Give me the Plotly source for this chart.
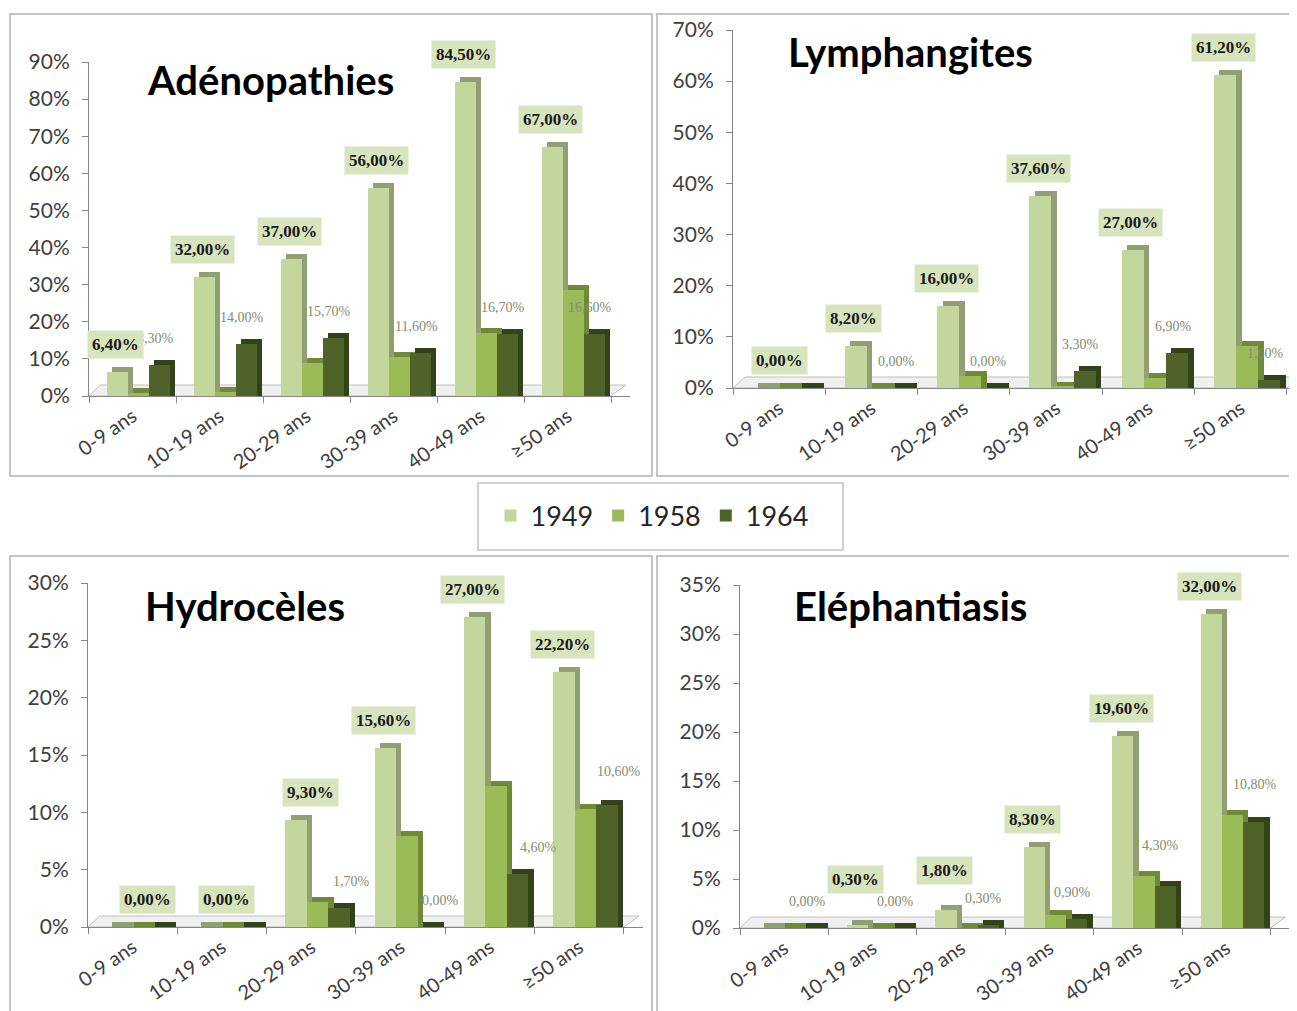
import plotly.graph_objects as go

# ---------------- data ----------------
categories = ["0-9 ans", "10-19 ans", "20-29 ans", "30-39 ans", "40-49 ans", "≥50 ans"]
years = ["1949", "1958", "1964"]

aden_1949 = [6.4, 32.0, 37.0, 56.0, 84.5, 67.0]
aden_1958 = [0.8, 1.0, 9.0, 10.5, 17.0, 28.5]
aden_1964 = [8.3, 14.0, 15.7, 11.6, 16.7, 16.6]

lymph_1949 = [0.0, 8.2, 16.0, 37.6, 27.0, 61.2]
lymph_1958 = [0.0, 0.0, 2.4, 0.2, 2.0, 8.3]
lymph_1964 = [0.0, 0.0, 0.0, 3.3, 6.9, 1.6]

hydro_1949 = [0.0, 0.0, 9.3, 15.6, 27.0, 22.2]
hydro_1958 = [0.0, 0.0, 2.2, 7.9, 12.3, 10.3]
hydro_1964 = [0.0, 0.0, 1.7, 0.0, 4.6, 10.6]

eleph_1949 = [0.0, 0.3, 1.8, 8.3, 19.6, 32.0]
eleph_1958 = [0.0, 0.0, 0.0, 1.3, 5.3, 11.5]
eleph_1964 = [0.0, 0.0, 0.3, 0.9, 4.3, 10.8]

titles = ["Adénopathies", "Lymphangites", "Hydrocèles", "Eléphantiasis"]
y_max = [90, 70, 30, 35]
y_dtick = [10, 10, 5, 5]
hidden_1964_labels = [[], [0], [0, 1], []]
hidden_1949_labels = [[], [], [], [0]]

# ---------------- styling ----------------
W, H = 1297, 1011
OFF = 8  # page body margin compensation (px)


def PX(x):
    return (x - OFF) / W


def PY(y):
    return 1 - (y - OFF) / H


front_colors = ["#c3d69b", "#9bbb59", "#4f6228"]
side_colors = ["#929f73", "#6f8a36", "#34421a"]
bar_centers = [-0.17, 0.07, 0.31]
bar_width = 0.24
side_dx = 0.06

# label placement tweaks (category units, pixels)
box_dx = -0.19
grey_dx = [0.26, 0.27, 0.45, 0.26]
box_adjust = {(1, 0): (0.19, 0), (2, 0): (0.36, 0), (2, 1): (0.24, 0), (2, 2): (0.18, 0),
              (3, 1): (0, 18), (3, 2): (0, 12)}
grey_adjust = {(3, 4): (0, 14), (3, 5): (0.07, 11), (2, 4): (0.1, 0), (2, 5): (0, 7)}

# layout geometry per panel (reference pixels): x0 axis, px per category, y0 (0%), y1 (max)
geo = [
    dict(x0=89, u=87.0, y0=396, y1=62, tx=145, ty=80),
    dict(x0=733, u=92.3, y0=388, y1=30, tx=786, ty=52),
    dict(x0=88, u=89.3, y0=927, y1=583, tx=143, ty=606),
    dict(x0=740, u=88.4, y0=928, y1=585, tx=792, ty=606),
]
series = [
    (aden_1949, aden_1958, aden_1964),
    (lymph_1949, lymph_1958, lymph_1964),
    (hydro_1949, hydro_1958, hydro_1964),
    (eleph_1949, eleph_1958, eleph_1964),
]


def fmt(v):
    return f"{v:.2f}".replace(".", ",") + "%"


fig = go.Figure()
annotations = []
shapes = []
layout_axes = {}
n = len(categories)
idx = list(range(n))

for k in range(4):
    g = geo[k]
    xa = "x" if k == 0 else f"x{k+1}"
    ya = "y" if k == 0 else f"y{k+1}"
    ymax = y_max[k]
    plot_h = g["y0"] - g["y1"]
    dy = ymax * 5 / plot_h
    fd = ymax * 11 / plot_h
    x1px = min(g["x0"] + (n + 0.22) * g["u"], W + OFF)
    xr_end = -0.5 + (x1px - g["x0"]) / g["u"]

    # side / depth faces (drawn first)
    for s in range(3):
        vals = series[k][s]
        fig.add_trace(go.Bar(
            x=[i + bar_centers[s] + side_dx for i in idx], y=[v + dy for v in vals],
            width=bar_width,
            marker=dict(color=side_colors[s], line=dict(width=0)),
            showlegend=False, hoverinfo="skip", xaxis=xa, yaxis=ya,
        ))
    # front faces
    for s in range(3):
        vals = series[k][s]
        fig.add_trace(go.Bar(
            x=[i + bar_centers[s] for i in idx], y=vals, width=bar_width,
            name=years[s], legendgroup=years[s], showlegend=(k == 0),
            marker=dict(color=front_colors[s], line=dict(width=0)),
            xaxis=xa, yaxis=ya,
        ))

    # floor
    shapes.append(dict(
        type="path", xref=xa, yref=ya, layer="below",
        path=f"M -0.5,0 L {n-0.5},0 L {n-0.5+0.17},{fd} L {-0.5+0.13},{fd} Z",
        fillcolor="#f0f0f0", line=dict(color="#bfbfbf", width=1),
    ))

    xkey = "xaxis" if k == 0 else f"xaxis{k+1}"
    ykey = "yaxis" if k == 0 else f"yaxis{k+1}"
    layout_axes[xkey] = dict(
        domain=[PX(g["x0"]), min(PX(x1px), 1.0)], anchor=ya, range=[-0.5, xr_end],
        tickmode="array", tickvals=idx, ticktext=categories, tickangle=-35,
        ticks="", showline=True, linecolor="#868686", linewidth=1,
        showgrid=False, zeroline=False,
        tickfont=dict(family="Lato", size=20, color="#404040"),
        minor=dict(tickmode="array", tickvals=[i - 0.5 for i in range(n + 1)],
                   ticks="outside", ticklen=6, tickcolor="#868686"),
    )
    layout_axes[ykey] = dict(
        domain=[PY(g["y0"]), PY(g["y1"])], anchor=xa, range=[0, ymax],
        dtick=y_dtick[k], ticksuffix="%", ticks="outside", ticklen=6,
        tickcolor="#868686", showline=True, linecolor="#868686", linewidth=1,
        showgrid=False, zeroline=False, ticklabelstandoff=8,
        tickfont=dict(family="Lato", size=21, color="#404040"),
    )

    # 1964 value labels (grey)
    for i in idx:
        if i in hidden_1964_labels[k]:
            continue
        adx, ady = grey_adjust.get((k, i), (0, 0))
        annotations.append(dict(
            x=i + grey_dx[k] + adx, y=series[k][2][i], xref=xa, yref=ya,
            text=fmt(series[k][2][i]), showarrow=False, yanchor="bottom",
            yshift=17 + ady,
            font=dict(family="Liberation Serif", size=14, color="#858c70"),
        ))
    # 1949 value labels (boxed)
    for i in idx:
        if i in hidden_1949_labels[k]:
            continue
        adx, ady = box_adjust.get((k, i), (0, 0))
        annotations.append(dict(
            x=i + box_dx + adx, y=series[k][0][i], xref=xa, yref=ya,
            text="<b>" + fmt(series[k][0][i]) + "</b>", showarrow=False,
            yanchor="bottom", yshift=13 + ady, bgcolor="#d7e4bd", borderpad=4,
            font=dict(family="Liberation Serif", size=17, color="#1a1a1a"),
        ))
    # panel title
    annotations.append(dict(
        x=PX(g["tx"]), y=PY(g["ty"]), xref="paper", yref="paper",
        xanchor="left", yanchor="middle", showarrow=False,
        text="<b>" + titles[k] + "</b>",
        font=dict(family="Lato", size=40, color="#000000"),
    ))

# panel borders
border = dict(color="#c4c4c4", width=2)
for (x0, y0, x1, y1) in [(10, 14, 652, 476), (657, 14, 1320, 476),
                         (10, 556, 652, 1030), (657, 556, 1320, 1030)]:
    shapes.append(dict(type="rect", xref="paper", yref="paper",
                       x0=PX(x0), x1=PX(x1), y0=PY(y0), y1=PY(y1),
                       line=border, fillcolor="rgba(0,0,0,0)", layer="below"))
# legend box
shapes.append(dict(type="rect", xref="paper", yref="paper",
                   x0=PX(478), x1=PX(843), y0=PY(483), y1=PY(550),
                   line=dict(color="#d0d0d0", width=2), fillcolor="white", layer="below"))

fig.update_layout(
    width=W, height=H, margin=dict(l=0, r=0, t=0, b=0, autoexpand=False),
    paper_bgcolor="white", plot_bgcolor="rgba(0,0,0,0)",
    barmode="overlay", bargap=0,
    legend=dict(orientation="h", x=PX(652), xanchor="center",
                y=PY(516), yanchor="middle",
                font=dict(family="Lato", size=27, color="#262626"),
                bgcolor="rgba(0,0,0,0)", itemwidth=30),
    annotations=annotations, shapes=shapes,
    **layout_axes,
)

fig.write_html("out.html")
